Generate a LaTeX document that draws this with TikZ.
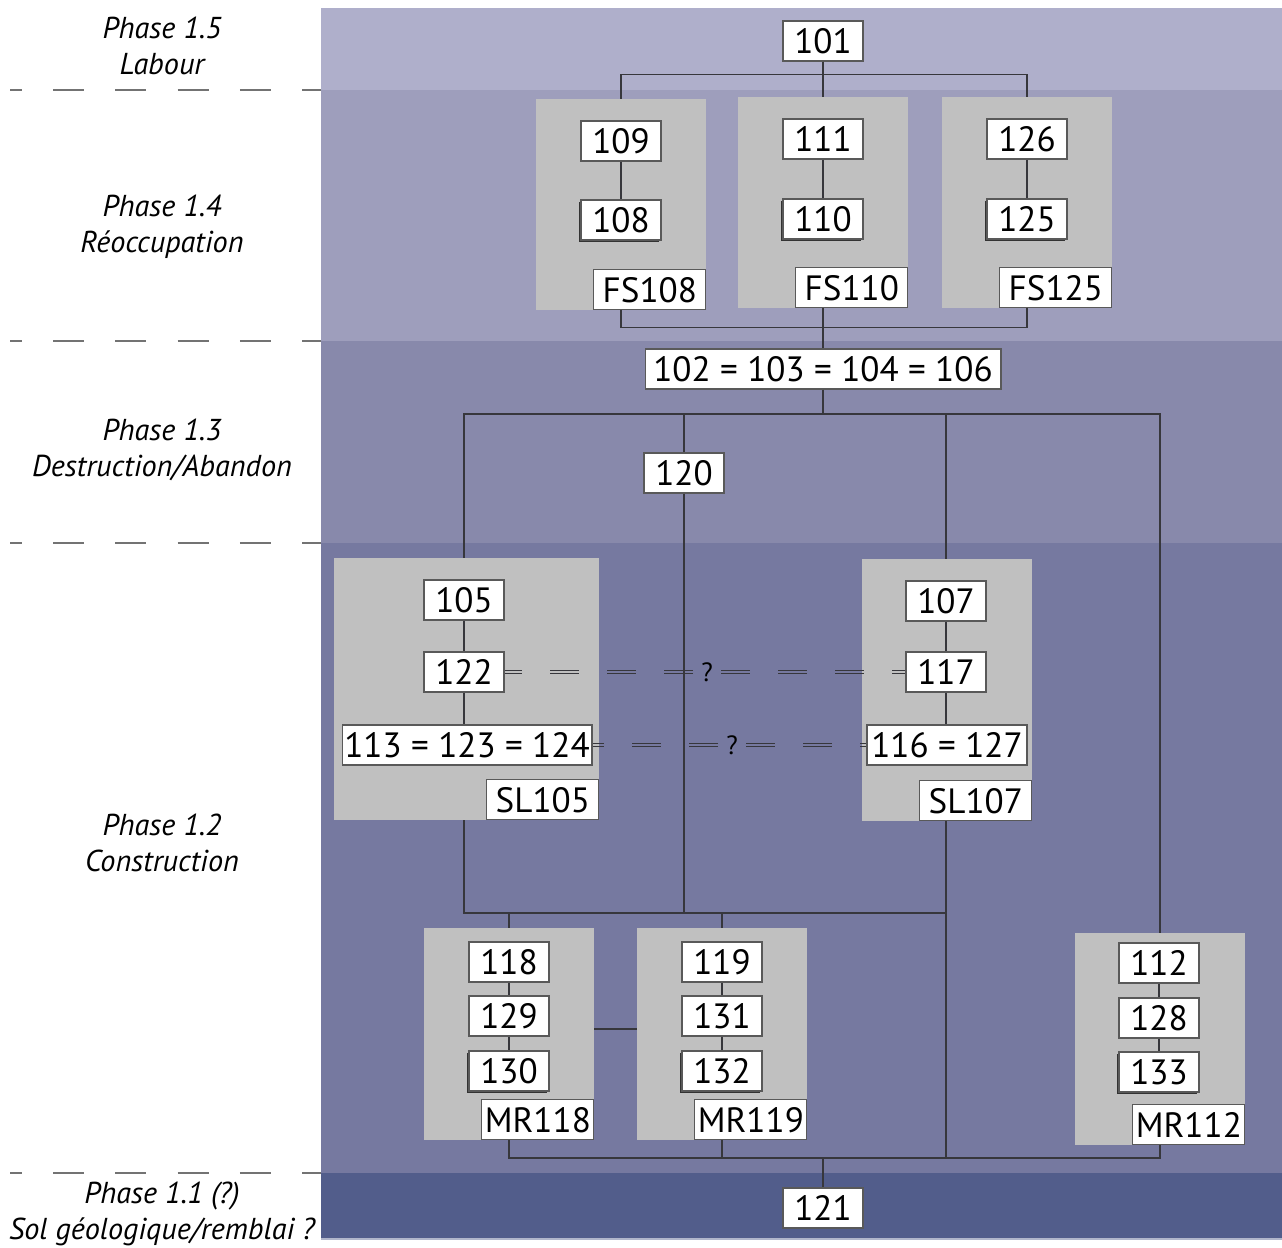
\documentclass[tikz,border=0pt]{standalone}
\usepackage{fontspec}
\setmainfont{PT Sans}
\usetikzlibrary{fit,shadows}
\definecolor{band15}{RGB}{175,175,203}
\definecolor{band14}{RGB}{158,158,188}
\definecolor{band13}{RGB}{136,137,171}
\definecolor{band12}{RGB}{118,121,160}
\definecolor{band11}{RGB}{82,93,139}
\definecolor{grpgray}{RGB}{192,192,192}
\definecolor{linegray}{RGB}{55,55,60}
\begin{document}
\begin{tikzpicture}[x=0.02cm, y=-0.02cm,
    box/.style={draw=black!65, line width=0.6pt, fill=white, minimum width=1.6cm,
      minimum height=0.8cm, inner sep=1pt, font=\fontsize{20}{22}\selectfont},
    last/.style={box, drop shadow={shadow xshift=-1.1pt, shadow yshift=-1.1pt, opacity=1, fill=black!80}},
    tag/.style={box, minimum width=2.24cm, anchor=south east},
    grp/.style={fill=grpgray, inner sep=0pt},
    link/.style={draw=linegray, line width=0.7pt},
    eqline/.style={draw=linegray, line width=0.45pt, dash pattern=on 16.5pt off 16pt},
    sep/.style={draw=black!55, line width=0.6pt, dash pattern=on 17.6pt off 17.8pt, dash phase=10.8pt},
    phase/.style={font=\fontsize{17.2}{20.4}\selectfont\itshape, align=center},
    qmark/.style={font=\fontsize{15}{18}\selectfont, inner sep=4.5pt}]
  \useasboundingbox (0,0) rectangle (1282,1248);
  % phase bands
  \fill[band15] (321,8) rectangle (1282,90);
  \fill[band14] (321,90) rectangle (1282,341);
  \fill[band13] (321,341) rectangle (1282,543);
  \fill[band12] (321,543) rectangle (1282,1173);
  \fill[band11] (321,1173) rectangle (1282,1238);
  \draw[band11!45!white, line width=1.1pt] (321,1239) -- (1282,1239);
  \foreach \y in {90,341,543,1173}
    \draw[sep] (10,\y) -- (321,\y);
  \node[phase] (p15) at (162,46) {Phase 1.5\\Labour};
  \node[phase] (p14) at (162,227) {Phase 1.4\\Réoccupation};
  \node[phase] (p13) at (162,450) {Phase 1.3\\Destruction/Abandon};
  \node[phase] (p12) at (162,843) {Phase 1.2\\Construction};
  \node[phase] (p11) at (162,1214) {Phase 1.1 (?)\\Sol géologique/remblai ?};

  % groups
  \node[grp, fit={(536,99) (706,310)}] (g108) {};
  \node[grp, fit={(738,97) (908,308)}] (g110) {};
  \node[grp, fit={(942,97) (1112,308)}] (g125) {};
  \node[grp, fit={(334,558) (599,820)}] (g105) {};
  \node[grp, fit={(862,559) (1032,821)}] (g107) {};
  \node[grp, fit={(424,928) (594,1140)}] (g118) {};
  \node[grp, fit={(637,928) (807,1140)}] (g119) {};
  \node[grp, fit={(1075,933) (1245,1145)}] (g112) {};

  % units
  \node[box] (n101) at (823,41) {101};
  \node[box] (n109) at (621,141) {109};
  \node[last] (n108) at (621,220) {108};
  \node[tag] (fs108) at (g108.south east) {FS108};
  \node[box] (n111) at (823,139) {111};
  \node[last] (n110) at (823,219) {110};
  \node[tag] (fs110) at (g110.south east) {FS110};
  \node[box] (n126) at (1027,139) {126};
  \node[last] (n125) at (1027,219) {125};
  \node[tag] (fs125) at (g125.south east) {FS125};
  \node[box, minimum width=7.12cm] (n102) at (823,369) {102 = 103 = 104 = 106};
  \node[box] (n120) at (684,473) {120};
  \node[box] (n105) at (464,600) {105};
  \node[box] (n122) at (464,672) {122};
  \node[box, minimum width=5cm] (n113) at (467,745) {113 = 123 = 124};
  \node[tag] (sl105) at (g105.south east) {SL105};
  \node[box] (n107) at (946,601) {107};
  \node[box] (n117) at (946,672) {117};
  \node[box, minimum width=3.2cm] (n116) at (947,745) {116 = 127};
  \node[tag] (sl107) at (g107.south east) {SL107};
  \node[box] (n118) at (509,962) {118};
  \node[box] (n129) at (509,1016) {129};
  \node[last] (n130) at (509,1071) {130};
  \node[tag] (mr118) at (g118.south east) {MR118};
  \node[box] (n119) at (722,962) {119};
  \node[box] (n131) at (722,1016) {131};
  \node[last] (n132) at (722,1071) {132};
  \node[tag] (mr119) at (g119.south east) {MR119};
  \node[box] (n112) at (1159,963) {112};
  \node[box] (n128) at (1159,1018) {128};
  \node[last] (n133) at (1159,1072) {133};
  \node[tag] (mr112) at (g112.south east) {MR112};
  \node[box] (n121) at (823,1208) {121};

  % phase 1.5 / 1.4
  \draw[link] (n101.south) -- ++(0,13) -| (g108.north);
  \draw[link] (n101.south) -- ++(0,13) -| (g125.north);
  \draw[link] (n101.south) -- (g110.north);
  \draw[link] (n109.south) -- (n108.north);
  \draw[link] (n111.south) -- (n110.north);
  \draw[link] (n126.south) -- (n125.north);
  \draw[link] (g108.south) -- ++(0,17) -| (g125.south);
  \draw[link] (g110.south) -- (n102.north);

  % phase 1.3
  \coordinate (j13) at (823,414);
  \coordinate (j12) at (823,913);
  \coordinate (j11) at (823,1158);
  \draw[link] (n102.south) -- (j13);
  \draw[link] (n105 |- g105.north) |- (g112.north |- j13) -- (g112.north);
  \draw[link] (n120 |- j13) -- (n120.north);
  \draw[link] (n120.south) -- (n120 |- j12);
  \draw[link] (n107 |- j13) -- (n107 |- g107.north);

  % phase 1.2
  \draw[link] (n105.south) -- (n122.north);
  \draw[link] (n122.south) -- (n122 |- n113.north);
  \draw[link] (n107.south) -- (n117.north);
  \draw[link] (n117.south) -- (n117 |- n116.north);
  \node[qmark] (q1) at (707,672) {?};
  \node[qmark] (q2) at (732,745) {?};
  \foreach \s in {-0.9pt,0.9pt} {
    \draw[eqline] ([yshift=\s]q1.west) -- ([yshift=\s]n122.east);
    \draw[eqline] ([yshift=\s]q1.east) -- ([yshift=\s]n117.west);
    \draw[eqline] ([yshift=\s]q2.west) -- ([yshift=\s]n113.east);
    \draw[eqline] ([yshift=\s]q2.east) -- ([yshift=\s]n116.west);
  }
  \draw[link] (n105 |- g105.south) |- (n107 |- j12);
  \draw[link] (n118 |- j12) -- (g118.north);
  \draw[link] (n119 |- j12) -- (g119.north);
  \draw[link] (n118.south) -- (n129.north);
  \draw[link] (n129.south) -- (n130.north);
  \draw[link] (n119.south) -- (n131.north);
  \draw[link] (n131.south) -- (n132.north);
  \draw[link] (n112.south) -- (n128.north);
  \draw[link] (n128.south) -- (n133.north);
  \draw[link] ([yshift=2.8pt]g118.east) -- ([yshift=2.8pt]g119.west);

  % phase 1.1
  \draw[link] (n107 |- g107.south) -- (n107 |- j11);
  \draw[link] (g118.south) |- (g112.south |- j11) -- (g112.south);
  \draw[link] (g119.south) -- (g119.south |- j11);
  \draw[link] (j11) -- (n121.north);
\end{tikzpicture}
\end{document}
